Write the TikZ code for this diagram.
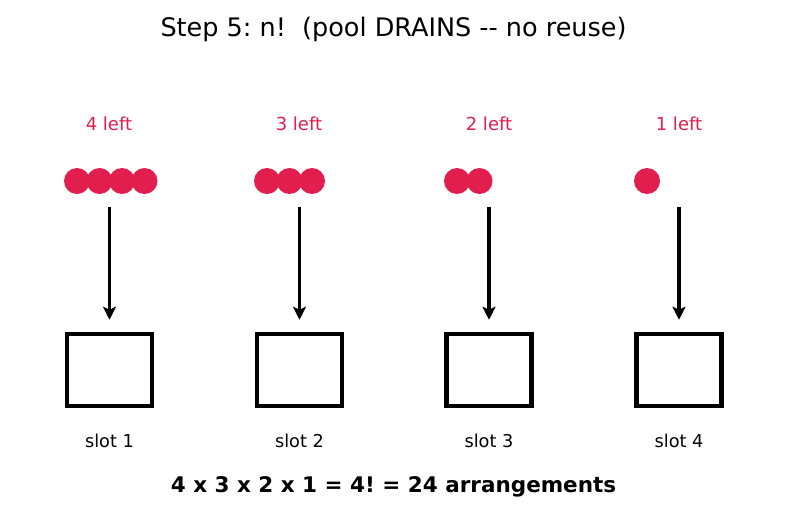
\documentclass[tikz,border=0pt]{standalone}
\usepackage{fontspec}
\setmainfont{DejaVu Sans}
\usepackage{xcolor}
\usetikzlibrary{arrows.meta, positioning}

\definecolor{poolred}{RGB}{226,30,78}
\frenchspacing

\begin{document}
\begin{tikzpicture}[
    x=1pt, y=-1pt,
    slot/.style={draw, line width=4.5pt, rectangle, minimum width=85pt, minimum height=72pt, inner sep=0pt},
    ball/.style={circle, fill=poolred, minimum size=26pt, inner sep=0pt},
    leftlabel/.style={text=poolred, font=\fontsize{18}{21}\selectfont},
    slotlabel/.style={font=\fontsize{17.7}{21}\selectfont},
    drop/.style={-{Stealth[length=13pt, width=13pt, inset=3pt]}, line width=3.5pt, shorten >=12pt}
]
    \useasboundingbox (0,0) rectangle (787,512);

    % Title
    \node (title) at (393.5,29) {\fontsize{25.5}{30}\selectfont Step 5: n!\ \ (pool DRAINS -{}- no reuse)};

    % Remaining counts
    \node[leftlabel] (left1) at (109,124) {4 left};
    \node[leftlabel] (left2) at (299,124) {3 left};
    \node[leftlabel] (left3) at (489,124) {2 left};
    \node[leftlabel] (left4) at (679,124) {1 left};

    % Pools
    \node[ball] (p1a) at (77,181) {};
    \node[ball] (p1b) at (99.5,181) {};
    \node[ball] (p1c) at (122,181) {};
    \node[ball] (p1d) at (144.5,181) {};
    \node[ball] (p2a) at (267,181) {};
    \node[ball] (p2b) at (289.5,181) {};
    \node[ball] (p2c) at (312,181) {};
    \node[ball] (p3a) at (457,181) {};
    \node[ball] (p3b) at (479.5,181) {};
    \node[ball] (p4a) at (647,181) {};

    % Slots
    \node[slot] (slot1) at (109.5,370) {};
    \node[slot] (slot2) at (299.5,370) {};
    \node[slot] (slot3) at (489,370) {};
    \node[slot] (slot4) at (679,370) {};

    \node[slotlabel] (name1) at (109.5,441) {slot 1};
    \node[slotlabel] (name2) at (299.5,441) {slot 2};
    \node[slotlabel] (name3) at (489,441) {slot 3};
    \node[slotlabel] (name4) at (679,441) {slot 4};

    % Picks
    \coordinate (top1) at (109.5,207);
    \coordinate (top2) at (299.5,207);
    \coordinate (top3) at (489,207);
    \coordinate (top4) at (679,207);
    \draw[drop] (top1) -- (slot1.north);
    \draw[drop] (top2) -- (slot2.north);
    \draw[drop] (top3) -- (slot3.north);
    \draw[drop] (top4) -- (slot4.north);

    % Product
    \node (total) at (393.5,487) {\fontsize{21.5}{25}\selectfont\bfseries 4 x 3 x 2 x 1 = 4! = 24 arrangements};

\end{tikzpicture}
\end{document}
